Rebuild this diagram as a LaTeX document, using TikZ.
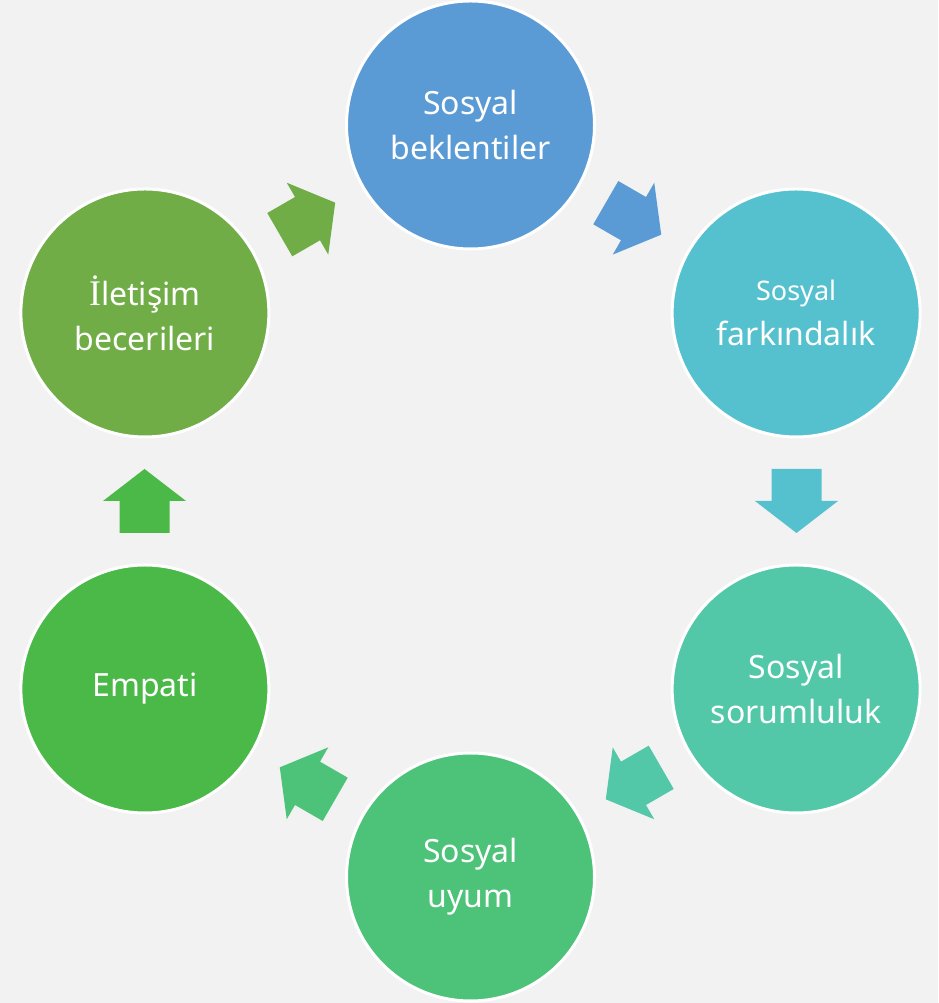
\documentclass[tikz,border=0pt]{standalone}
\usepackage{fontspec}
\setmainfont{Noto Sans}
\newfontfamily\serifcap{Liberation Serif}
\definecolor{bg}{HTML}{F2F2F2}
\definecolor{cA}{HTML}{5B9BD5}
\definecolor{cB}{HTML}{55C1CF}
\definecolor{cC}{HTML}{52C8A9}
\definecolor{cD}{HTML}{4DC279}
\definecolor{cE}{HTML}{4BB947}
\definecolor{cF}{HTML}{70AD47}
\begin{document}
\begin{tikzpicture}[x=1pt,y=1pt,
  stage/.style={circle, draw=white, line width=3pt, minimum size=248pt, inner sep=0pt,
    text=white, align=center, font=\fontsize{32}{45}\selectfont}]
% canvas
\fill[bg] (0,0) rectangle (938,1003);
\useasboundingbox (0,0) rectangle (938,1003);
\coordinate (C) at (470.5,502);
% stages of the cycle
\node[stage, fill=cA] (s1) at ([shift={(90:376)}]C) {Sosyal\\beklentiler};
\node[stage, fill=cB] (s2) at ([shift={(30:376)}]C) {{\fontsize{27}{40}\selectfont Sosyal}\\farkındalık};
\node[stage, fill=cC] (s3) at ([shift={(-30:376)}]C) {Sosyal\\sorumluluk};
\node[stage, fill=cD] (s4) at ([shift={(-90:376)}]C) {Sosyal\\uyum};
\node[stage, fill=cE] (s5) at ([shift={(-150:376)}]C) {Empati};
\node[stage, fill=cF] (s6) at ([shift={(150:376)}]C) {{\serifcap\fontsize{36}{45}\selectfont İ}letişim\\becerileri};
% block arrows between stages
\foreach \ang/\col in {60/cA, 0/cB, -60/cC, -120/cD, 180/cE, 120/cF} {
  \coordinate (a\ang) at ([shift={(\ang:326)}]C);
  \pgfmathsetmacro{\dir}{\ang-90}
  \fill[\col, shift={(a\ang)}, rotate=\dir]
    (-32,25) -- (0,25) -- (0,41.5) -- (32,0) -- (0,-41.5) -- (0,-25) -- (-32,-25) -- cycle;
}
\end{tikzpicture}
\end{document}
